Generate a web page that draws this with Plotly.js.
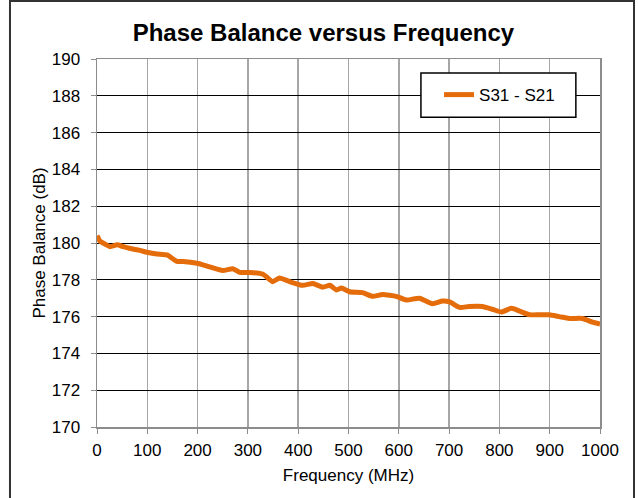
<!DOCTYPE html>
<html>
<head>
<meta charset="utf-8">
<script src="https://cdn.plot.ly/plotly-3.0.1.min.js"></script>
<style>
html,body{margin:0;padding:0;background:#fff;}
#chart{width:638px;height:498px;}
</style>
</head>
<body>
<div id="chart"></div>
<script>
var freqMHz = [0, 6, 12, 26, 40, 52, 66, 85, 99, 119, 139, 159, 171, 199, 224, 250, 270, 284, 304, 330, 349, 363, 383, 409, 429, 449, 463, 476, 486, 502, 528, 548, 568, 595, 615, 641, 667, 687, 701, 721, 740, 766, 786, 804, 824, 840, 860, 879, 899, 919, 939, 965, 985, 1000];
var phaseBalance = [180.4, 180.1, 180.0, 179.8, 179.9, 179.8, 179.7, 179.6, 179.5, 179.4, 179.35, 179.0, 179.0, 178.9, 178.7, 178.5, 178.6, 178.4, 178.4, 178.3, 177.9, 178.1, 177.9, 177.7, 177.8, 177.6, 177.7, 177.45, 177.55, 177.35, 177.3, 177.1, 177.2, 177.1, 176.9, 177.0, 176.7, 176.85, 176.8, 176.5, 176.55, 176.55, 176.4, 176.25, 176.45, 176.3, 176.1, 176.1, 176.1, 176.0, 175.9, 175.9, 175.7, 175.6];
var seriesName = "S31 - S21";
var chartTitle = "Phase Balance versus Frequency";
var xTitle = "Frequency (MHz)";
var yTitle = "Phase Balance (dB)";

var font = "Liberation Sans, Arial, sans-serif";

var trace = {
  x: freqMHz,
  y: phaseBalance,
  type: "scatter",
  mode: "lines",
  name: seriesName,
  line: {color: "#E46C0A", width: 5, shape: "spline", smoothing: 0.5}
};

var layout = {
  width: 638,
  height: 498,
  margin: {l: 97, r: 38, t: 59, b: 71},
  paper_bgcolor: "#fff",
  plot_bgcolor: "#fff",
  font: {family: font, size: 17, color: "#000"},
  title: {text: "<b>" + chartTitle + "</b>", font: {family: font, size: 24, color: "#000"}, x: 0.507, xanchor: "center", y: 0.935, yanchor: "middle"},
  showlegend: true,
  legend: {
    x: 0.68, y: 0.902, xanchor: "left", yanchor: "middle",
    borderwidth: 0, bgcolor: "rgba(0,0,0,0)",
    font: {family: font, size: 17, color: "#000"}
  },
  xaxis: {
    range: [0, 1000], dtick: 100, tick0: 0,
    showgrid: true, gridcolor: "#A6A6A6", gridwidth: 1.5,
    showline: true, linecolor: "#8C8C8C", linewidth: 1.5, mirror: true,
    ticks: "outside", ticklen: 5, tickcolor: "#8C8C8C",
    ticklabelstandoff: 2,
    zeroline: false,
    title: {text: xTitle, font: {family: font, size: 17, color: "#000"}, standoff: 10},
    tickfont: {family: font, size: 17, color: "#000"}
  },
  yaxis: {
    range: [170, 190], dtick: 2, tick0: 170,
    showgrid: true, gridcolor: "#000", gridwidth: 1,
    showline: true, linecolor: "#8C8C8C", linewidth: 1.5, mirror: true,
    ticks: "outside", ticklen: 5, tickcolor: "#8C8C8C",
    ticklabelstandoff: 7,
    zeroline: false,
    title: {text: yTitle, font: {family: font, size: 17, color: "#000"}, standoff: 2},
    tickfont: {family: font, size: 17, color: "#000"}
  },
  shapes: [{
    type: "rect", xref: "paper", yref: "paper",
    x0: -0.173, x1: 1.0676, y0: -0.21, y1: 1.1576,
    line: {color: "#333", width: 2}, fillcolor: "rgba(0,0,0,0)", layer: "below"
  }, {
    type: "rect", xref: "paper", yref: "paper",
    x0: 0.644, x1: 0.952, y0: 0.842, y1: 0.962,
    line: {color: "#000", width: 1.5}, fillcolor: "#fff", layer: "above"
  }]
};

Plotly.newPlot("chart", [trace], layout, {displayModeBar: false, staticPlot: true});
</script>
</body>
</html>
